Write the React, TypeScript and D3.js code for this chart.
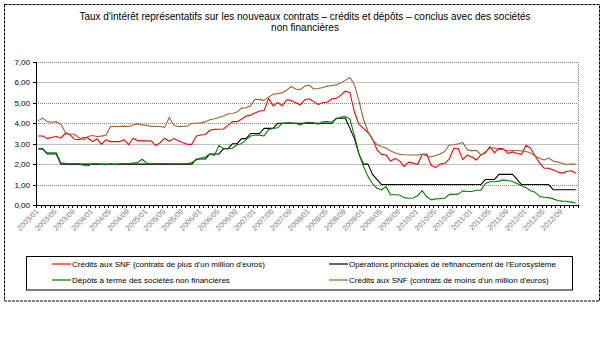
import React from "react";
import * as d3 from "d3";

const years = [2003, 2004, 2005, 2006, 2007, 2008, 2009, 2010, 2011, 2012];
const months = years.flatMap((y) => d3.range(1, 13).map((m) => `${y}/${String(m).padStart(2, "0")}`));

const redValues = [
  3.38, 3.38, 3.25, 3.32, 3.35, 3.28, 3.5, 3.45, 3.22, 3.2, 3.3, 3.28,
  3.1, 3.24, 2.97, 3.2, 3.1, 3.1, 3.1, 3.2, 2.95, 3.27, 3.15, 3.14,
  3.14, 3.14, 2.91, 3.05, 3.27, 3.12, 3.25, 3.15, 3.05, 2.97, 2.97, 3.38,
  3.43, 3.45, 3.66, 3.7, 3.71, 3.72, 3.9, 4.08, 4.08, 4.2, 4.36, 4.4,
  4.5, 4.6, 4.62, 5.22, 4.85, 5.02, 4.85, 5.15, 5.12, 5.0, 4.9, 5.15,
  5.2, 5.05, 4.92, 5.02, 5.03, 5.2, 5.22, 5.38, 5.58, 5.5, 4.55, 3.95,
  3.75, 3.55, 3.25, 2.7, 2.48, 2.45, 2.15, 2.28, 2.16, 1.88, 2.1, 2.05,
  1.98, 2.48, 2.5, 1.93, 1.83, 2.0, 2.04, 2.25, 2.78, 2.75, 2.22, 2.45,
  2.35, 2.2, 2.45, 2.55, 2.86, 2.55, 2.78, 2.75, 2.52, 2.6, 2.52, 2.48,
  2.92, 2.78, 2.4, 2.05, 1.8, 1.8, 1.72, 1.62, 1.56, 1.64, 1.68, 1.55,
];

const blackValues = [
  2.75, 2.75, 2.5, 2.5, 2.5, 2.0, 2.0, 2.0, 2.0, 2.0, 2.0, 2.0,
  2.0, 2.0, 2.0, 2.0, 2.0, 2.0, 2.0, 2.0, 2.0, 2.0, 2.0, 2.0,
  2.0, 2.0, 2.0, 2.0, 2.0, 2.0, 2.0, 2.0, 2.0, 2.0, 2.0, 2.25,
  2.25, 2.25, 2.5, 2.5, 2.5, 2.75, 2.75, 3.0, 3.0, 3.25, 3.25, 3.5,
  3.5, 3.5, 3.75, 3.75, 3.75, 4.0, 4.0, 4.0, 4.0, 4.0, 4.0, 4.0,
  4.0, 4.0, 4.0, 4.0, 4.0, 4.0, 4.25, 4.25, 4.25, 3.75, 3.25, 2.5,
  2.0, 2.0, 1.5, 1.25, 1.0, 1.0, 1.0, 1.0, 1.0, 1.0, 1.0, 1.0,
  1.0, 1.0, 1.0, 1.0, 1.0, 1.0, 1.0, 1.0, 1.0, 1.0, 1.0, 1.0,
  1.0, 1.0, 1.0, 1.25, 1.25, 1.25, 1.5, 1.5, 1.5, 1.5, 1.25, 1.0,
  1.0, 1.0, 1.0, 1.0, 1.0, 1.0, 0.75, 0.75, 0.75, 0.75, 0.75, 0.75,
];

const greenValues = [
  2.75, 2.72, 2.55, 2.55, 2.55, 2.06, 2.04, 2.03, 2.03, 2.03, 1.93, 1.92,
  2.02, 2.03, 1.98, 1.97, 2.02, 1.97, 2.02, 2.03, 2.02, 2.05, 2.08, 2.24,
  2.05, 2.02, 2.02, 2.03, 2.03, 2.02, 2.02, 2.02, 2.02, 2.02, 2.08, 2.2,
  2.3, 2.35, 2.5, 2.42, 2.92, 2.75, 2.75, 2.78, 2.95, 3.0, 3.2, 3.38,
  3.43, 3.42, 3.38, 3.7, 3.75, 3.78, 4.0, 4.02, 4.02, 4.0, 3.92, 4.03,
  4.05, 4.02, 3.95, 4.07, 4.08, 4.05, 4.22, 4.3, 4.33, 4.2, 3.4, 2.5,
  1.9, 1.4, 1.05, 0.82, 0.75, 0.9, 0.5, 0.5, 0.49, 0.36, 0.33, 0.34,
  0.45, 0.7, 0.4, 0.25, 0.3, 0.31, 0.33, 0.52, 0.52, 0.53, 0.69, 0.66,
  0.66, 0.72, 0.73, 1.05, 1.14, 1.14, 1.17, 1.23, 1.2, 1.15, 1.05, 0.95,
  0.85, 0.7, 0.62, 0.42, 0.38, 0.36, 0.3, 0.22, 0.19, 0.18, 0.14, 0.1,
];

const brownValues = [
  4.13, 4.25, 4.08, 4.05, 4.08, 3.95, 3.55, 3.46, 3.46, 3.3, 3.19, 3.35,
  3.4, 3.35, 3.37, 3.42, 3.84, 3.84, 3.84, 3.86, 3.84, 3.92, 3.97, 3.92,
  3.9, 3.84, 3.84, 3.84, 3.8, 4.28, 3.9, 3.84, 3.84, 3.86, 4.0, 4.0,
  4.02, 4.08, 4.17, 4.22, 4.28, 4.36, 4.46, 4.48, 4.55, 4.74, 4.76, 4.85,
  5.18, 5.16, 5.12, 5.28, 5.42, 5.45, 5.5, 5.62, 5.8, 5.68, 5.64, 5.82,
  5.86, 5.68, 5.7, 5.75, 5.82, 5.85, 5.88, 5.98, 6.1, 6.24, 5.9, 5.1,
  4.2, 3.6, 3.2, 2.95, 2.86, 2.78, 2.65, 2.55, 2.48, 2.46, 2.45, 2.45,
  2.45, 2.48, 2.4, 2.36, 2.42, 2.5, 2.62, 2.94, 2.95, 3.0, 3.06, 2.7,
  2.65, 2.68, 2.45, 2.6, 2.78, 2.8, 2.72, 2.72, 2.65, 2.67, 2.67, 2.65,
  2.62, 2.55, 2.4, 2.29, 2.2, 2.3, 2.15, 2.1, 2.04, 1.98, 2.0, 2.0,
];

const yTicks = [0, 1, 2, 3, 4, 5, 6, 7];
const titleLines = [
  "Taux d'intérêt représentatifs sur les nouveaux contrats – crédits et dépôts – conclus avec des sociétés",
  "non financières",
];
const seriesNames = [
  "Crédits aux SNF (contrats de plus d'un million d'euros)",
  "Opérations principales de refinancement de l'Eurosystème",
  "Dépôts à terme des sociétés non financières",
  "Crédits aux SNF (contrats de moins d'un million d'euros)",
];

const series = [
  { name: seriesNames[0], values: redValues, color: "#ff0000" },
  { name: seriesNames[1], values: blackValues, color: "#000000" },
  { name: seriesNames[2], values: greenValues, color: "#008000" },
  { name: seriesNames[3], values: brownValues, color: "#9c6430" },
];

const FONT = "'Liberation Sans', Arial, sans-serif";

export default function App() {
  const W = 606, H = 338;
  const left = 36, right = 578, top = 62, bottom = 205;
  const x = d3.scaleBand<number>().domain(d3.range(months.length)).range([left, right]);
  const bw = x.bandwidth();
  const cx = (i: number) => (x(i) as number) + bw / 2;
  const y = d3.scaleLinear().domain([0, 7]).range([bottom, top]);
  const line = d3.line<number>().x((_, i) => cx(i)).y((d) => y(d));
  const dottedGrid = new Set([1, 4, 5, 7]);

  const legendItems = [
    { s: series[0], lx: 52, ly: 264 },
    { s: series[1], lx: 329, ly: 264 },
    { s: series[2], lx: 52, ly: 280 },
    { s: series[3], lx: 329, ly: 280 },
  ];

  return (
    <svg width={W} height={H} style={{ position: "absolute", left: 0, top: 0 }} fontFamily={FONT}>
      <rect x={0} y={0} width={W} height={H} fill="#fff" />
      <rect x={4.5} y={4.5} width={595} height={296.5} fill="none" stroke="#000" strokeWidth={1} strokeDasharray="3,1" />
      {titleLines.map((t, k) => (
        <text key={k} x={305} y={20 + k * 11} textAnchor="middle" fontSize={10} fill="#000">{t}</text>
      ))}
      {yTicks.filter((v) => v > 0).map((v) => (
        <line key={v} x1={left} x2={right} y1={Math.round(y(v)) + 0.5} y2={Math.round(y(v)) + 0.5}
          stroke={dottedGrid.has(v) ? "#808080" : "#c0c0c0"} strokeWidth={1}
          strokeDasharray={dottedGrid.has(v) ? "1,1" : undefined} />
      ))}
      <line x1={right + 0.5} x2={right + 0.5} y1={top} y2={bottom} stroke="#808080" strokeDasharray="1,1" />
      {yTicks.map((v) => (
        <g key={v}>
          <line x1={left - 3} x2={left} y1={Math.round(y(v)) + 0.5} y2={Math.round(y(v)) + 0.5} stroke="#000" />
          <text x={left - 6} y={y(v) + 3} textAnchor="end" fontSize={8} fill="#000">{v.toFixed(2).replace(".", ",")}</text>
        </g>
      ))}
      {series.map((s) => (
        <path key={s.name} d={line(s.values) || ""} fill="none" stroke={s.color} strokeWidth={1.1} strokeLinejoin="round" />
      ))}
      <line x1={left + 0.5} x2={left + 0.5} y1={top} y2={bottom} stroke="#000" />
      <line x1={left} x2={right + 1} y1={bottom + 0.5} y2={bottom + 0.5} stroke="#000" />
      {d3.range(months.length + 1).map((i) => {
        const xx = Math.round(left + i * bw) + 0.5;
        return <line key={i} x1={xx} x2={xx} y1={bottom} y2={bottom + 3} stroke="#000" />;
      })}
      {months.map((m, i) => (i % 4 === 0 ? (
        <text key={m} transform={`translate(${cx(i) + 1},${bottom + 7}) rotate(-45)`} textAnchor="end"
          fontSize={7.5} fill="#808080">{m}</text>
      ) : null))}
      <rect x={26.5} y={256.5} width={546} height={33.5} fill="#fff" stroke="#000" strokeWidth={1} />
      {legendItems.map(({ s, lx, ly }) => (
        <g key={s.name}>
          <line x1={lx} x2={lx + 19} y1={ly} y2={ly} stroke={s.color} strokeWidth={1.2} />
          <text x={lx + 20} y={ly + 3} fontSize={8} fill="#000">{s.name}</text>
        </g>
      ))}
    </svg>
  );
}
